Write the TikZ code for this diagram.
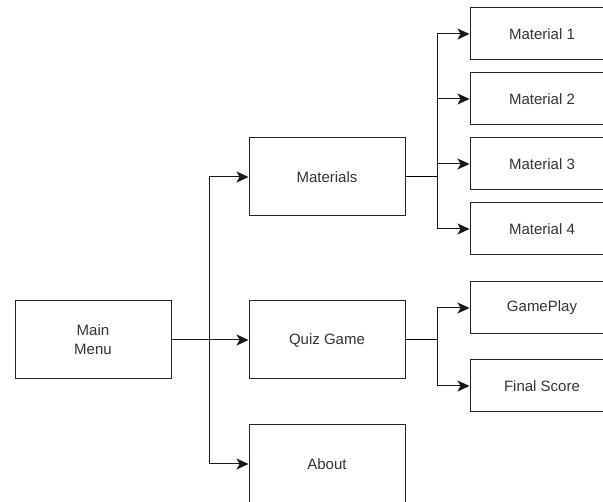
\documentclass[tikz,border=0pt]{standalone}
\usepackage{fontspec}
\setmainfont{Liberation Sans}
\usetikzlibrary{arrows.meta}

\begin{document}
\begin{tikzpicture}[x=1pt,y=-1pt,
		 font=\fontsize{15}{19}\selectfont,
		 line width=1pt]

		 % style of the boxes
		 \tikzstyle{menubox}=[draw=black!85,text=black!80,align=center,
		 	minimum width=156pt,minimum height=78pt,inner sep=0pt]
		 \tikzstyle{subbox}=[menubox,minimum width=144pt,minimum height=52pt]
		 \tikzstyle{link}=[draw=black!90,-{Stealth[length=12pt,width=11pt,inset=3pt]}]

			\useasboundingbox (0,0) rectangle (603,502);
			\clip (0,0) rectangle (603,502);

			% first level
			\node [menubox] (main) at (93,340) {Main\\Menu};
			\node [menubox] (materials) at (327,177) {Materials};
			\node [menubox] (quiz) at (327,340) {Quiz Game};
			\node [menubox] (about) at (327,464) {About};

			% second level
			\foreach \i/\y in {1/34,2/99,3/164,4/229}
				\node [subbox] (material\i) at (542,\y) {Material \i};
			\node [subbox] (gameplay) at (542,308) {GamePlay};
			\node [subbox] (score) at (542,386) {Final Score};

			% forks
			\coordinate (trunk) at (209,340);
			\coordinate (matfork) at (437,177);
			\coordinate (quizfork) at (437,340);

			\draw [link] (main.east) -- (quiz.west);
			\draw [link] (trunk) |- (materials.west);
			\draw [link] (trunk) |- (about.west);

			\draw (materials.east) -- (matfork);
			\foreach \i in {1,...,4}
				\draw [link] (matfork) |- (material\i.west);

			\draw (quiz.east) -- (quizfork);
			\draw [link] (quizfork) |- (gameplay.west);
			\draw [link] (quizfork) |- (score.west);

		\end{tikzpicture}
\end{document}
